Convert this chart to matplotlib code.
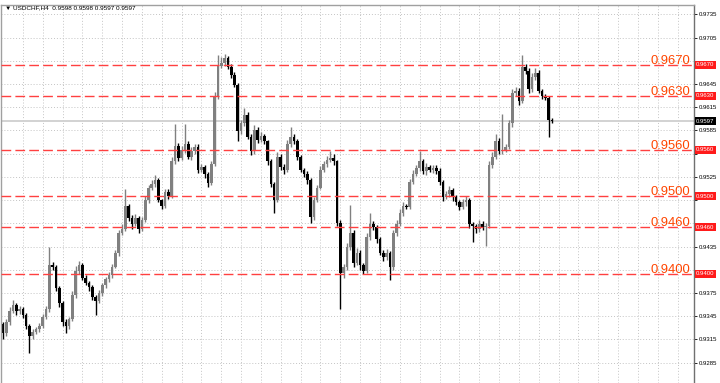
import matplotlib
matplotlib.use('Agg')
import matplotlib.pyplot as plt
import matplotlib.transforms as mtransforms
import numpy as np

# ---------------- data ----------------
symbol = "USDCHF,H4"
header_prices = ["0.9598", "0.9598", "0.9597", "0.9597"]

first_open = 9335  # pips (x 1e-4)
closes = [
    9323, 9338, 9352, 9359, 9352, 9355, 9346, 9333, 9320, 9325,
    9329, 9333, 9344, 9355, 9411, 9408, 9382, 9362, 9338, 9332,
    9341, 9372, 9404, 9411, 9395, 9388, 9383, 9370, 9365, 9375,
    9385, 9393, 9398, 9409, 9427, 9453, 9458, 9487, 9472, 9464,
    9472, 9458, 9469, 9495, 9511, 9516, 9521, 9495, 9488, 9505,
    9500, 9545, 9565, 9550, 9560, 9567, 9551, 9558, 9564, 9534,
    9538, 9529, 9517, 9542, 9629, 9668, 9672, 9678, 9667, 9657,
    9644, 9584, 9594, 9605, 9577, 9558, 9586, 9573, 9578, 9571,
    9545, 9516, 9495, 9551, 9538, 9534, 9568, 9577, 9571, 9551,
    9534, 9529, 9521, 9473, 9495, 9511, 9534, 9542, 9547, 9550,
    9545, 9466, 9401, 9408, 9434, 9453, 9414, 9427, 9411, 9404,
    9447, 9464, 9460, 9445, 9427, 9421, 9427, 9408, 9453, 9464,
    9479, 9487, 9486, 9518, 9529, 9537, 9545, 9532, 9538, 9534,
    9537, 9532, 9518, 9499, 9503, 9508, 9499, 9492, 9486, 9492,
    9495, 9464, 9461, 9458, 9464, 9460, 9462, 9541, 9551, 9571,
    9558, 9560, 9564, 9594, 9633, 9636, 9623, 9667, 9662, 9638,
    9654, 9659, 9636, 9629, 9627, 9599, 9597,
]
wick_up = [
    3, 4, 5, 7, 3, 3, 2, 3, 2, 3,
    2, 3, 4, 3, 23, 4, 3, 2, 3, 4,
    3, 5, 6, 6, 3, 3, 2, 3, 2, 4,
    3, 3, 4, 3, 4, 4, 6, 22, 3, 4,
    5, 3, 4, 5, 4, 5, 6, 3, 2, 4,
    5, 6, 28, 4, 5, 26, 4, 5, 4, 3,
    4, 3, 2, 4, 6, 14, 8, 6, 3, 4,
    3, 2, 5, 9, 4, 3, 6, 4, 5, 3,
    2, 3, 2, 6, 3, 4, 5, 13, 4, 3,
    2, 3, 4, 2, 4, 3, 5, 4, 5, 8,
    4, 2, 3, 4, 5, 36, 3, 6, 3, 3,
    5, 15, 4, 3, 3, 4, 5, 2, 4, 5,
    4, 5, 3, 4, 5, 4, 13, 3, 5, 3,
    4, 3, 4, 3, 4, 5, 3, 2, 3, 4,
    5, 3, 3, 3, 5, 4, 3, 5, 6, 9,
    4, 46, 4, 5, 6, 5, 4, 15, 4, 3,
    5, 6, 4, 3, 3, 2, 2,
]
wick_dn = [
    8, 3, 4, 3, 5, 4, 3, 4, 23, 5,
    3, 4, 3, 2, 4, 3, 4, 5, 6, 8,
    3, 2, 3, 4, 3, 3, 5, 4, 19, 3,
    4, 3, 4, 3, 2, 4, 3, 3, 4, 6,
    3, 5, 3, 2, 4, 3, 4, 3, 5, 3,
    4, 2, 3, 4, 3, 4, 3, 4, 3, 4,
    3, 5, 5, 2, 3, 4, 3, 4, 3, 4,
    3, 13, 4, 3, 3, 5, 3, 4, 3, 4,
    5, 4, 16, 3, 4, 5, 3, 4, 3, 4,
    3, 4, 5, 7, 4, 3, 2, 3, 4, 3,
    4, 5, 46, 6, 3, 4, 5, 3, 6, 5,
    3, 4, 3, 5, 3, 4, 3, 16, 3, 4,
    3, 4, 3, 3, 2, 3, 4, 3, 4, 3,
    4, 3, 3, 5, 3, 4, 5, 3, 4, 3,
    4, 5, 20, 5, 4, 3, 24, 3, 4, 3,
    4, 3, 3, 3, 4, 3, 5, 3, 4, 5,
    3, 4, 3, 4, 3, 22, 3,
]

levels = [0.9670, 0.9630, 0.9560, 0.9500, 0.9460, 0.9400]
current_price = 0.9597
yticks = [0.9285, 0.9315, 0.9345, 0.9375, 0.9405, 0.9435, 0.9465, 0.9495,
          0.9525, 0.9555, 0.9585, 0.9615, 0.9645, 0.9675, 0.9705, 0.9735]
bars_per_day = 6

# ---------------- build OHLC ----------------
c = np.array(closes, dtype=float) / 10000.0
o = np.concatenate([[first_open / 10000.0], c[:-1]])
hi = np.maximum(o, c) + np.array(wick_up) / 10000.0
lo = np.minimum(o, c) - np.array(wick_dn) / 10000.0
x = np.arange(len(c))
bull = c >= o
col_bull = '#808080'
col_bear = '#000000'
colors = [col_bull if b else col_bear for b in bull]

# ---------------- figure ----------------
W, H = 720, 383
fig = plt.figure(figsize=(W / 100, H / 100), dpi=100)
fig.patch.set_facecolor('white')
ax_left, ax_right, ax_top = 1, 694, 5
ax = fig.add_axes([ax_left / W, 0, (ax_right - ax_left) / W, (H - ax_top) / H])
ax.set_facecolor('white')

bar_px = 3.307
x0_px = 3
ax.set_xlim((ax_left - x0_px) / bar_px, (ax_right - x0_px) / bar_px)
ax.set_ylim(0.92588, 0.97470)

# grid
grid_col = '#c4c4c4'
xg = np.arange(bars_per_day, 210, bars_per_day)
ax.set_xticks(xg)
ax.set_xticklabels([])
ax.tick_params(axis='x', length=0)
for xv in xg:
    ax.axvline(xv, color=grid_col, lw=0.7, ls=(0, (1, 2)), zorder=0.5)
for yv in yticks:
    ax.axhline(yv, color=grid_col, lw=0.7, ls=(0, (1, 2)), zorder=0.5)

# current price line
ax.axhline(current_price, color='#d2d2d2', lw=1.4, zorder=0.8)

# candles
ax.vlines(x, lo, hi, colors=colors, lw=1.0, zorder=2)
heights = np.where(np.abs(c - o) < 0.00008, 0.00008, np.abs(c - o))
bottoms = np.minimum(o, c)
ax.bar(x, heights, bottom=bottoms, width=0.8, color=colors, linewidth=0, zorder=2.1)

# level lines
tr = mtransforms.blended_transform_factory(ax.transAxes, ax.transData)
for lv in levels:
    ax.axhline(lv, color='#ff4040', lw=1.0, ls=(0, (7, 3)), zorder=3)
    ax.text((690 - ax_left) / (ax_right - ax_left), lv + 0.00014, f"{lv:.4f}",
            transform=tr, ha='right', va='baseline', fontsize=9.4, color='#ff4500',
            family=['Liberation Sans', 'DejaVu Sans'], zorder=4)

# right axis (labels hidden under the price tags are left out)
tags = levels + [current_price]
shown = [t for t in yticks if min(abs(t - g) for g in tags) > 0.0009]
ax.yaxis.tick_right()
ax.set_yticks(yticks)
ax.set_yticklabels([f"{t:.4f}" if t in shown else "" for t in yticks], fontsize=4.3,
                   family=['Liberation Sans', 'DejaVu Sans'])
ax.tick_params(axis='y', direction='out', length=2.2, width=0.6, pad=1.2,
               colors='#000000')
for s in ['left', 'top']:
    ax.spines[s].set_color('#a0a0a0')
    ax.spines[s].set_linewidth(1.0)
ax.spines['right'].set_color('#707070')
ax.spines['right'].set_linewidth(1.0)
ax.spines['bottom'].set_visible(False)

# price tags on the axis
tag_x = 1.0 + 2 / (ax_right - ax_left)
for lv in levels:
    ax.text(tag_x, lv, f"{lv:.4f}", transform=tr, ha='left', va='center',
            fontsize=4.3, color='white', family=['Liberation Sans', 'DejaVu Sans'],
            bbox=dict(boxstyle='square,pad=0.25', fc='#ff1a1a', ec='none'),
            clip_on=False, zorder=10)
ax.text(tag_x, current_price, f"{current_price:.4f}", transform=tr, ha='left',
        va='center', fontsize=4.3, color='white',
        family=['Liberation Sans', 'DejaVu Sans'],
        bbox=dict(boxstyle='square,pad=0.25', fc='#000000', ec='none'),
        clip_on=False, zorder=10)

# header
ax.text(0.006, 1 - 3.2 / (H - ax_top), "\u25BC " + symbol + "  " + " ".join(header_prices),
        transform=ax.transAxes, ha='left', va='center', fontsize=4.6,
        color='#000000', family=['Liberation Sans', 'DejaVu Sans'], zorder=10)

fig.savefig('out.png', dpi=100, facecolor='white')
